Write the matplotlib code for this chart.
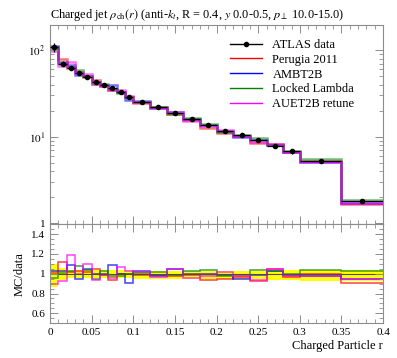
#!/usr/bin/env python3
"""Charged jet rho_ch(r) profile, ATLAS data vs MC tunes, with MC/data ratio."""

import numpy as np
import matplotlib
matplotlib.use("Agg")
import matplotlib.pyplot as plt
from matplotlib.lines import Line2D
from matplotlib.ticker import FixedLocator, FuncFormatter, MultipleLocator, LogLocator, NullFormatter

plt.rcParams.update({
    "font.family": "serif",
    "font.serif": ["Liberation Serif", "DejaVu Serif"],
    "mathtext.fontset": "stix",
    "font.size": 8.5,
    "xtick.labelsize": 8,
    "ytick.labelsize": 8,
    "legend.fontsize": 9,
})

# bin edges in r
edges = [0.0, 0.01, 0.02, 0.03, 0.04, 0.05, 0.06, 0.07, 0.08, 0.09, 0.10,
         0.12, 0.14, 0.16, 0.18, 0.20, 0.22, 0.24, 0.26, 0.28, 0.30, 0.35, 0.40]

# ATLAS data
data = [109, 70, 61.5, 54, 48.4, 43, 39.4, 36.5, 32.5, 28.9, 25.0,
        22.0, 18.6, 15.9, 13.6, 11.7, 10.5, 9.2, 7.9, 6.8, 5.3, 1.83]
# relative uncertainties (up / down)
err_up = [0.10, 0.06, 0.04, 0.035, 0.035, 0.035, 0.035, 0.035, 0.035, 0.035, 0.03,
          0.03, 0.03, 0.03, 0.03, 0.03, 0.03, 0.03, 0.03, 0.035, 0.04, 0.04]
err_dn = [0.13, 0.06, 0.04, 0.04, 0.04, 0.04, 0.04, 0.04, 0.04, 0.04, 0.05,
          0.05, 0.05, 0.05, 0.05, 0.05, 0.05, 0.05, 0.06, 0.06, 0.07, 0.07]

# MC / data ratios
perugia = [1.01, 1.12, 1.02, 1.03, 1.02, 1.045, 0.99, 0.94, 1.00, 1.00, 0.99,
           0.99, 0.98, 0.985, 0.935, 0.95, 0.97, 0.93, 1.045, 0.97, 1.00, 0.91]
ambt2b = [1.027, 1.03, 1.09, 0.946, 1.045, 1.00, 1.00, 1.085, 1.00, 0.91, 1.03,
          0.975, 1.047, 1.00, 1.00, 0.99, 0.946, 0.99, 1.027, 0.99, 0.976, 0.946]
locked = [0.955, 1.01, 1.03, 1.08, 1.04, 0.95, 1.03, 0.98, 0.975, 1.00, 1.01,
          1.013, 0.99, 1.027, 1.04, 0.98, 0.985, 1.04, 1.03, 1.00, 1.037, 1.027]
auet2b = [0.90, 0.93, 1.19, 1.00, 1.095, 0.935, 0.99, 0.955, 1.07, 1.027, 1.02,
          0.965, 1.047, 0.953, 0.976, 1.017, 0.98, 0.935, 1.047, 0.98, 0.976, 0.946]

mc_runs = [
    ("Perugia 2011", perugia, "#ff0000"),
    ("AMBT2B", ambt2b, "#0000ff"),
    ("Locked Lambda", locked, "#008000"),
    ("AUET2B retune", auet2b, "#ff00ff"),
]

GREY = "0.55"


def step(ax, vals, **kw):
    ax.stairs(list(vals), edges, baseline=None, **kw)


def style_axis(ax):
    for sp in ax.spines.values():
        sp.set_color(GREY)
        sp.set_linewidth(0.8)
    ax.tick_params(which="both", direction="in", top=True, right=True, color=GREY)
    ax.tick_params(which="major", length=6, width=0.7)
    ax.tick_params(which="minor", length=3, width=0.6)


def main():
    e = np.array(edges)
    centres = 0.5 * (e[1:] + e[:-1])
    half = 0.5 * (e[1:] - e[:-1])
    d = np.array(data)

    fig = plt.figure(figsize=(3.97, 3.58), dpi=100)
    ax = fig.add_axes([0.126, 0.374, 0.839, 0.556])
    rax = fig.add_axes([0.126, 0.097, 0.839, 0.277], sharex=ax)

    # main panel
    for label, ratio, col in mc_runs:
        step(ax, d * np.array(ratio), color=col, lw=1.8, alpha=0.55)
    ax.errorbar(centres, d, xerr=half,
                yerr=[d * np.array(err_dn), d * np.array(err_up)],
                fmt="o", ms=3, color="black", lw=0.9, capsize=0, zorder=5)

    ax.set_yscale("log")
    ax.set_ylim(0.98, 195)
    ax.set_xlim(0, 0.4)
    ax.yaxis.set_major_locator(FixedLocator([1, 10, 100]))
    ax.yaxis.set_major_formatter(FuncFormatter(
        lambda v, p: "1" if abs(v - 1) < 1e-9 else rf"$10^{{{int(round(np.log10(v)))}}}$"))
    ax.yaxis.set_minor_locator(LogLocator(base=10, subs=np.arange(2, 10)))
    ax.yaxis.set_minor_formatter(NullFormatter())
    ax.xaxis.set_major_locator(MultipleLocator(0.05))
    ax.xaxis.set_minor_locator(MultipleLocator(0.01))
    ax.tick_params(labelbottom=False)
    style_axis(ax)

    ax.set_title(r"Charged jet $\rho_{\mathrm{ch}}(r)$ (anti-$k_t$, R = 0.4, $y$ 0.0-0.5, $p_\perp$ 10.0-15.0)",
                 loc="left", fontsize=8.8, pad=5)

    leg_h = [Line2D([], [], color="black", marker="o", ms=3, lw=1.0)] + \
            [Line2D([], [], color=c, lw=1.0) for _, _, c in mc_runs]
    leg_l = ["ATLAS data"] + [name for name, _, _ in mc_runs]
    ax.legend(leg_h, leg_l, loc="upper left", bbox_to_anchor=(0.525, 0.955),
              frameon=False, handlelength=2.6, labelspacing=0.22, handletextpad=0.8,
              borderaxespad=0)

    # ratio panel
    up = 1 + np.array(err_up)
    dn = 1 - np.array(err_dn)
    rax.stairs(up, edges, baseline=dn, fill=True, color="#ffff00", lw=0)
    for label, ratio, col in mc_runs:
        step(rax, ratio, color=col, lw=1.1, alpha=0.75)
    step(rax, np.ones(len(data)), color="0.3", lw=0.8)

    rax.set_ylim(0.5, 1.5)
    rax.yaxis.set_major_locator(FixedLocator([0.6, 0.8, 1.0, 1.2, 1.4]))
    rax.yaxis.set_major_formatter(FuncFormatter(lambda v, p: f"{v:g}"))
    rax.yaxis.set_minor_locator(MultipleLocator(0.05))
    rax.xaxis.set_major_formatter(FuncFormatter(lambda v, p: f"{v:g}"))
    style_axis(rax)
    rax.set_ylabel("MC/data", fontsize=9)
    rax.set_xlabel("Charged Particle r", loc="right", fontsize=9, labelpad=2)

    fig.savefig("out.png", dpi=100)
    plt.close(fig)


if __name__ == "__main__":
    main()
